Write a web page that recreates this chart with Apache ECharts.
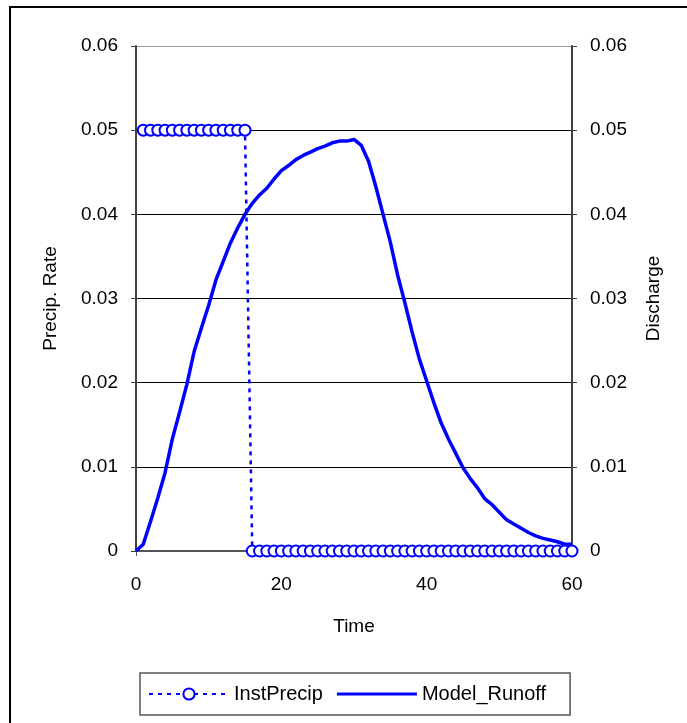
<!DOCTYPE html>
<html>
<head>
<meta charset="utf-8">
<script src="https://cdn.jsdelivr.net/npm/echarts@6/dist/echarts.min.js"></script>
<style>
  html, body { margin: 0; padding: 0; background: #fff; }
  #chart { width: 687px; height: 723px; }
</style>
</head>
<body>
<div id="chart"></div>
<script>
// values
const precipTime = [1, 2, 3, 4, 5, 6, 7, 8, 9, 10, 11, 12, 13, 14, 15,
  16, 17, 18, 19, 20, 21, 22, 23, 24, 25, 26, 27, 28, 29, 30,
  31, 32, 33, 34, 35, 36, 37, 38, 39, 40, 41, 42, 43, 44, 45,
  46, 47, 48, 49, 50, 51, 52, 53, 54, 55, 56, 57, 58, 59, 60]
const instPrecip = [0.05, 0.05, 0.05, 0.05, 0.05, 0.05, 0.05, 0.05, 0.05, 0.05, 0.05, 0.05, 0.05, 0.05, 0.05,
  0, 0, 0, 0, 0, 0, 0, 0, 0, 0, 0, 0, 0, 0, 0,
  0, 0, 0, 0, 0, 0, 0, 0, 0, 0, 0, 0, 0, 0, 0,
  0, 0, 0, 0, 0, 0, 0, 0, 0, 0, 0, 0, 0, 0, 0]

const runoffTime = [0, 1, 2, 3, 4, 5, 6, 7, 8, 9, 10, 11, 12, 13, 14, 15,
  16, 17, 18, 19, 20, 21, 22, 23, 24, 25, 26, 27, 28, 29, 30,
  31, 32, 33, 34, 35, 36, 37, 38, 39, 40, 41, 42, 43, 44, 45,
  46, 47, 48, 49, 50, 51, 52, 53, 54, 55, 56, 57, 58, 59, 60]
const modelRunoff = [0, 0.0008, 0.0035, 0.0063, 0.0093, 0.0133, 0.0165, 0.0198, 0.0237, 0.0265, 0.0292,
  0.0322, 0.0344, 0.0366, 0.0384, 0.0400, 0.0413, 0.0423, 0.0431, 0.0442, 0.0452,
  0.0458, 0.0465, 0.0470, 0.0474, 0.0478, 0.0481, 0.0485, 0.0487, 0.0487, 0.0489,
  0.0482, 0.0463, 0.0433, 0.0400, 0.0367, 0.0328, 0.0295, 0.0260, 0.0228, 0.0202,
  0.0176, 0.0152, 0.0133, 0.0116, 0.0099, 0.0086, 0.0075, 0.0062, 0.0055, 0.0046,
  0.0037, 0.0032, 0.0027, 0.0022, 0.0018, 0.0015, 0.0013, 0.0011, 0.0008, 0.0008]

const seriesNames = ['InstPrecip', 'Model_Runoff']
const axisNames = { x: 'Time', left: 'Precip. Rate', right: 'Discharge' }

const font = 'Liberation Sans, Arial, sans-serif'
const blue = '#0000ff'

const chart = echarts.init(document.getElementById('chart'))

const yAxisBase = {
  type: 'value',
  min: 0,
  max: 0.06,
  interval: 0.01,
  nameLocation: 'middle',
  nameRotate: 90,
  nameTextStyle: { fontFamily: font, fontSize: 19, color: '#000' },
  axisLine: { show: true, lineStyle: { color: '#404040', width: 2 } },
  axisTick: { show: true, length: 5, lineStyle: { color: '#404040', width: 1 } },
  axisLabel: { fontFamily: font, fontSize: 19, color: '#000', margin: 18 }
}

chart.setOption({
  animation: false,
  backgroundColor: '#fff',
  graphic: [{
    type: 'rect',
    shape: { x: 10, y: 7, width: 700, height: 740 },
    style: { fill: 'none', stroke: '#000', lineWidth: 2 },
    silent: true
  }],
  grid: { left: 136, right: 115, top: 46, bottom: 172 },
  legend: {
    left: 140,
    top: 673,
    padding: [11, 24, 11, 8],
    itemWidth: 80,
    itemHeight: 14,
    itemGap: 14,
    borderColor: '#555',
    borderWidth: 1.5,
    textStyle: { fontFamily: font, fontSize: 20, color: '#000' },
    data: [
      { name: seriesNames[0] },
      { name: seriesNames[1], icon: 'path://M0,0H100V4H0Z' }
    ]
  },
  xAxis: {
    type: 'value',
    min: 0,
    max: 60,
    interval: 20,
    name: axisNames.x,
    nameLocation: 'middle',
    nameGap: 66,
    nameTextStyle: { fontFamily: font, fontSize: 19, color: '#000' },
    splitLine: { show: false },
    axisLine: { show: true, lineStyle: { color: '#555', width: 2 } },
    axisTick: { show: true, length: 5, lineStyle: { color: '#555', width: 1 } },
    axisLabel: { fontFamily: font, fontSize: 19, color: '#000', margin: 24 }
  },
  yAxis: [
    Object.assign({}, yAxisBase, {
      position: 'left',
      name: axisNames.left,
      nameGap: 76,
      splitLine: {
        show: true,
        lineStyle: { color: ['#000', '#000', '#000', '#000', '#000', '#000', '#999'], width: 1 }
      }
    }),
    Object.assign({}, yAxisBase, {
      position: 'right',
      name: axisNames.right,
      nameGap: 72,
      splitLine: { show: false }
    })
  ],
  series: [
    {
      name: seriesNames[0],
      type: 'line',
      yAxisIndex: 0,
      data: precipTime.map((t, i) => [t, instPrecip[i]]),
      symbol: 'emptyCircle',
      symbolSize: 11,
      itemStyle: { color: blue, borderWidth: 1.6 },
      lineStyle: { color: blue, width: 2.5, type: [4, 5] },
      z: 2
    },
    {
      name: seriesNames[1],
      type: 'line',
      yAxisIndex: 1,
      data: runoffTime.map((t, i) => [t, modelRunoff[i]]),
      symbol: 'none',
      itemStyle: { color: blue },
      lineStyle: { color: blue, width: 3.5 },
      z: 3
    }
  ]
})
</script>
</body>
</html>
